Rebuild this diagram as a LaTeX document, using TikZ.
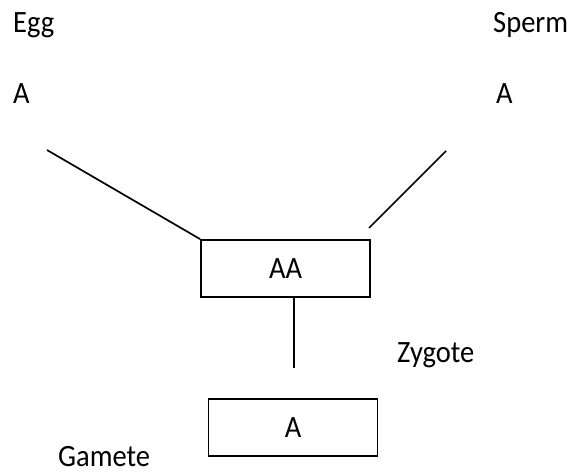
\documentclass[tikz,border=0pt]{standalone}
\usepackage{fontspec}
\setmainfont{Carlito}[FakeStretch=0.92]
\usepackage{tikz}
\tikzset{label text/.style={anchor=base west,inner sep=0pt,text depth=0pt,font=\fontsize{31}{36}\selectfont},
    allele box/.style={draw,line width=1.8pt,minimum width=169pt,minimum height=57pt,
        inner sep=0pt,font=\fontsize{31}{36}\selectfont},
    cross line/.style={draw,line width=1.7pt}}

\begin{document}
\begin{tikzpicture}[x=1pt,y=-1pt]
            \useasboundingbox (0,0) rectangle (572,473);
            % parents and their alleles
            \node[label text] (egg) at (13,33) {Egg};
            \node[label text] (sperm) at (493,33) {Sperm};
            \node[label text] (egg allele) at (13,104) {A};
            \node[label text] (sperm allele) at (496,104) {A};
            % boxes
            \node[allele box] (zygote box) at (285.5,268.5) {AA};
            \node[allele box] (gamete box) at (293,427.5) {A};
            \node[label text] (zygote) at (397,362) {Zygote};
            \node[label text] (gamete) at (58,466) {Gamete};
            % lines
            \coordinate (egg end) at (47,150);
            \coordinate (sperm end) at (446,151);
            \coordinate (sperm tip) at (369,228);
            \coordinate (down top) at (294,298);
            \coordinate (down end) at (294,368);
            \draw[cross line] (egg end) -- (zygote box.north west);
            \draw[cross line] (sperm end) -- (sperm tip);
            \draw[cross line] (down top) -- (down end);
        \end{tikzpicture}
\end{document}
